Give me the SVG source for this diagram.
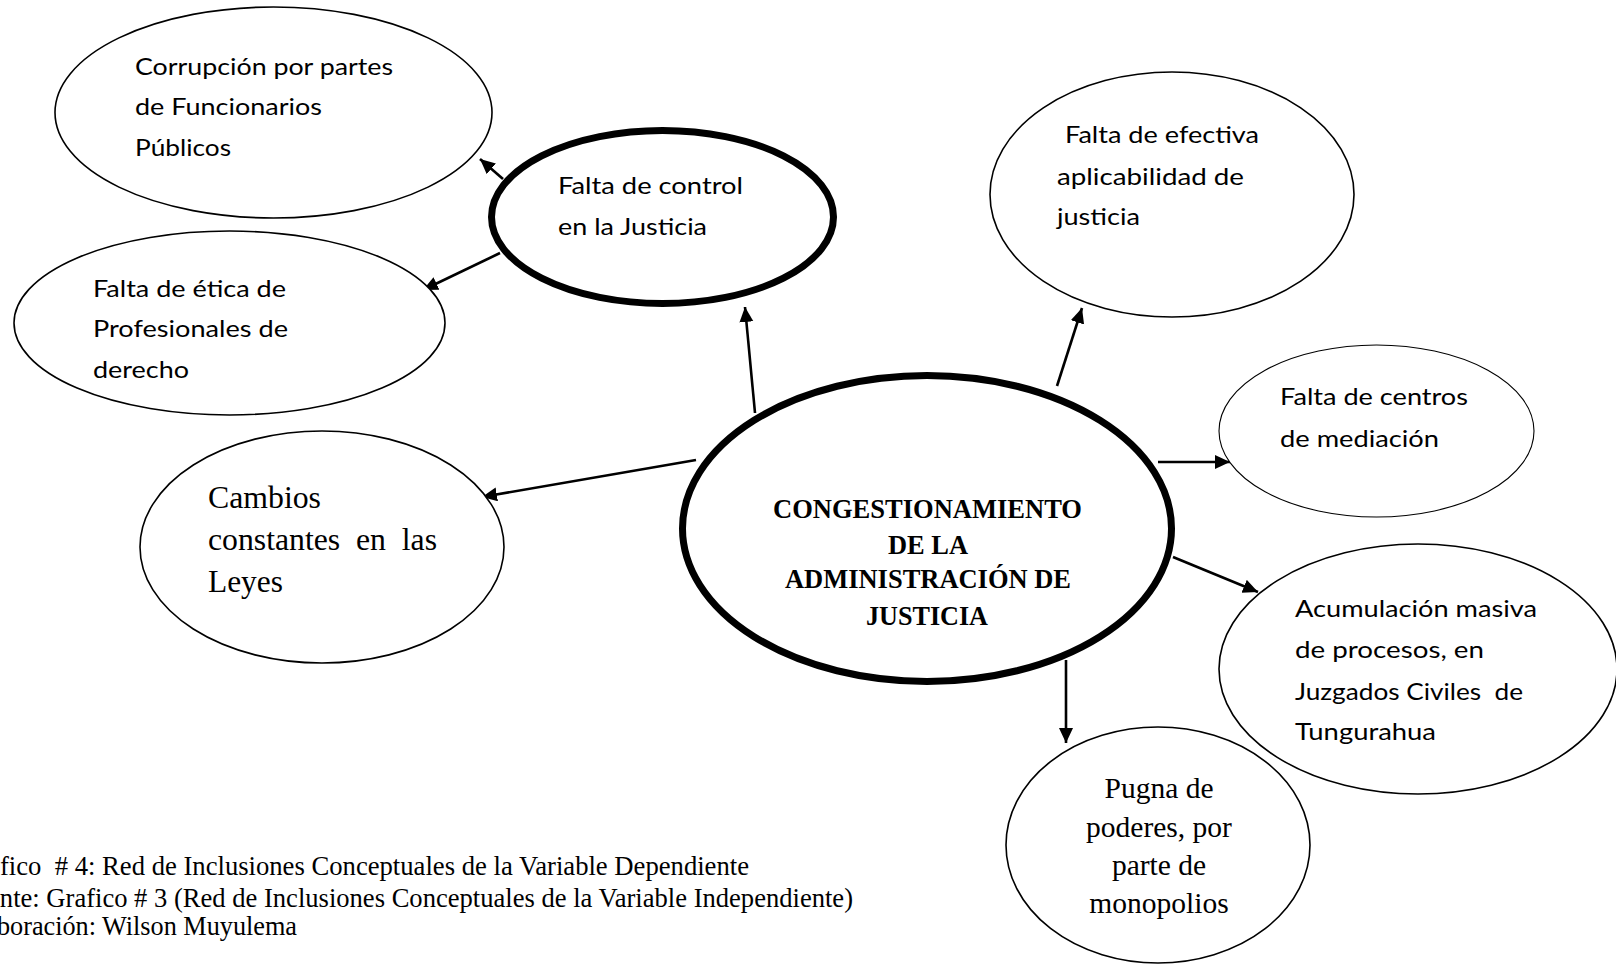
<svg xmlns="http://www.w3.org/2000/svg" width="1616" height="965" viewBox="0 0 1616 965">
<style>
  .bg { fill: #ffffff; }
  .thin { fill: #ffffff; stroke: #000000; stroke-width: 1.6; }
  .hair { fill: #ffffff; stroke: #000000; stroke-width: 1.1; }
  .thick { fill: #ffffff; stroke: #000000; stroke-width: 7; }
  text { white-space: pre; }
  .sans { font-family: Lato, "Open Sans", sans-serif; font-size: 24px; fill: #000000; }
  .serif { font-family: "Liberation Serif", "Times New Roman", serif; fill: #000000; }
  .bold { font-weight: bold; font-size: 26.5px; }
  .conn line { stroke: #000000; stroke-width: 2.6; marker-end: url(#arrow); }
</style>
<defs>
  <marker id="arrow" markerUnits="userSpaceOnUse" markerWidth="16" markerHeight="15" refX="15" refY="7" orient="auto">
    <path d="M0,0 L15,7 L0,14 z" fill="#000000"/>
  </marker>
</defs>
<rect class="bg" x="0" y="0" width="1616" height="965"/>

<g id="connectors" class="conn">
  <line x1="503" y1="179" x2="480" y2="159"/>
  <line x1="500" y1="253" x2="423" y2="290"/>
  <line x1="755" y1="413" x2="745" y2="307"/>
  <line x1="696" y1="460" x2="482" y2="497"/>
  <line x1="1057" y1="386" x2="1082" y2="308"/>
  <line x1="1158" y1="462" x2="1230" y2="462"/>
  <line x1="1173" y1="557" x2="1258" y2="592"/>
  <line x1="1066" y1="660" x2="1066" y2="743"/>
</g>

<g id="corrupcion">
  <ellipse class="thin" cx="273.5" cy="112.5" rx="218.5" ry="105.5"/>
  <text class="sans" x="135" y="75" textLength="258" lengthAdjust="spacingAndGlyphs">Corrupción por partes</text>
  <text class="sans" x="135" y="115" textLength="187" lengthAdjust="spacingAndGlyphs">de Funcionarios</text>
  <text class="sans" x="135" y="156" textLength="96" lengthAdjust="spacingAndGlyphs">Públicos</text>
</g>

<g id="control">
  <ellipse class="thick" cx="662.5" cy="217" rx="171" ry="86.5"/>
  <text class="sans" x="558" y="194" textLength="185" lengthAdjust="spacingAndGlyphs">Falta de control</text>
  <text class="sans" x="558" y="235" textLength="149" lengthAdjust="spacingAndGlyphs">en la Justicia</text>
</g>

<g id="etica">
  <ellipse class="thin" cx="229.5" cy="323" rx="215.5" ry="92"/>
  <text class="sans" x="93" y="297" textLength="193" lengthAdjust="spacingAndGlyphs">Falta de ética de</text>
  <text class="sans" x="93" y="337" textLength="195" lengthAdjust="spacingAndGlyphs">Profesionales de</text>
  <text class="sans" x="93" y="378" textLength="96" lengthAdjust="spacingAndGlyphs">derecho</text>
</g>

<g id="cambios">
  <ellipse class="thin" cx="322" cy="547" rx="182" ry="116"/>
  <text class="serif" font-size="31" x="208" y="508" textLength="113" lengthAdjust="spacingAndGlyphs">Cambios</text>
  <text class="serif" font-size="31" x="208" y="550" textLength="229" lengthAdjust="spacingAndGlyphs">constantes  en  las</text>
  <text class="serif" font-size="31" x="208" y="592" textLength="75" lengthAdjust="spacingAndGlyphs">Leyes</text>
</g>

<g id="central">
  <ellipse class="thick" cx="927" cy="528.5" rx="244.5" ry="153"/>
  <text class="serif bold" x="773" y="518" textLength="309" lengthAdjust="spacingAndGlyphs">CONGESTIONAMIENTO</text>
  <text class="serif bold" x="888" y="554" textLength="80" lengthAdjust="spacingAndGlyphs">DE LA</text>
  <text class="serif bold" x="785" y="588" textLength="286" lengthAdjust="spacingAndGlyphs">ADMINISTRACIÓN DE</text>
  <text class="serif bold" x="866" y="625" textLength="122" lengthAdjust="spacingAndGlyphs">JUSTICIA</text>
</g>

<g id="efectiva">
  <ellipse class="thin" cx="1172" cy="194.5" rx="182" ry="122.5"/>
  <text class="sans" x="1065" y="143" textLength="194" lengthAdjust="spacingAndGlyphs">Falta de efectiva</text>
  <text class="sans" x="1057" y="185" textLength="187" lengthAdjust="spacingAndGlyphs">aplicabilidad de</text>
  <text class="sans" x="1057" y="225" textLength="83" lengthAdjust="spacingAndGlyphs">justicia</text>
</g>

<g id="centros">
  <ellipse class="hair" cx="1376.5" cy="431" rx="157.5" ry="86"/>
  <text class="sans" x="1280" y="405" textLength="188" lengthAdjust="spacingAndGlyphs">Falta de centros</text>
  <text class="sans" x="1280" y="447" textLength="159" lengthAdjust="spacingAndGlyphs">de mediación</text>
</g>

<g id="acumulacion">
  <ellipse class="thin" cx="1418" cy="669" rx="199" ry="125"/>
  <text class="sans" x="1295" y="617" textLength="242" lengthAdjust="spacingAndGlyphs">Acumulación masiva</text>
  <text class="sans" x="1295" y="658" textLength="189" lengthAdjust="spacingAndGlyphs">de procesos, en</text>
  <text class="sans" x="1295" y="700" textLength="228" lengthAdjust="spacingAndGlyphs">Juzgados Civiles  de</text>
  <text class="sans" x="1295" y="740" textLength="141" lengthAdjust="spacingAndGlyphs">Tungurahua</text>
</g>

<g id="pugna">
  <ellipse class="thin" cx="1158" cy="845" rx="152" ry="118"/>
  <text class="serif" font-size="29.5" x="1159" y="798" text-anchor="middle">Pugna de</text>
  <text class="serif" font-size="29.5" x="1159" y="837" text-anchor="middle">poderes, por</text>
  <text class="serif" font-size="29.5" x="1159" y="875" text-anchor="middle">parte de</text>
  <text class="serif" font-size="29.5" x="1159" y="913" text-anchor="middle">monopolios</text>
</g>

<g id="caption">
  <text class="serif" font-size="26.5" x="-40" y="875" textLength="789" lengthAdjust="spacingAndGlyphs">Grafico  # 4: Red de Inclusiones Conceptuales de la Variable Dependiente</text>
  <text class="serif" font-size="26.5" x="-40" y="907" textLength="893" lengthAdjust="spacingAndGlyphs">Fuente: Grafico # 3 (Red de Inclusiones Conceptuales de la Variable Independiente)</text>
  <text class="serif" font-size="26.5" x="-38" y="935" textLength="335" lengthAdjust="spacingAndGlyphs">Elaboración: Wilson Muyulema</text>
</g>
</svg>
